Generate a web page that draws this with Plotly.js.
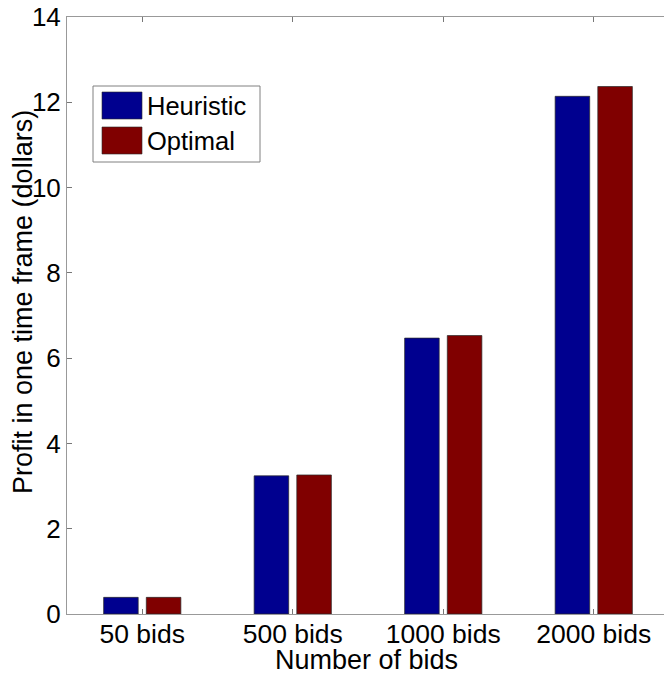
<!DOCTYPE html>
<html>
<head>
<meta charset="utf-8">
<script src="https://cdn.plot.ly/plotly-3.0.1.min.js"></script>
<style>
html,body{margin:0;padding:0;overflow:hidden;background:#fff;}
#chart{width:670px;height:676px;}
</style>
</head>
<body>
<div id="chart"></div>
<script>
var categories = ["50 bids", "500 bids", "1000 bids", "2000 bids"];
var seriesNames = ["Heuristic", "Optimal"];
var heuristic = [0.39, 3.24, 6.47, 12.14];
var optimal = [0.39, 3.26, 6.53, 12.37];
var yTicks = [0, 2, 4, 6, 8, 10, 12, 14];
var colors = ["#00008F", "#800000"];
var xTitle = "Number of bids";
var yTitle = "Profit in one time frame (dollars)";

var FONT = "Liberation Sans, Arial, Helvetica, sans-serif";

var traces = [heuristic, optimal].map(function (vals, i) {
  return {
    type: "bar",
    name: seriesNames[i],
    x: categories,
    y: vals,
    marker: { color: colors[i], line: { color: "rgba(40,40,40,0.7)", width: 1 } },
    hoverinfo: "x+y+name"
  };
});

var W = 670, H = 676, ml = 67, mr = 1, mt = 17, mb = 62;
var pw = W - ml - mr, ph = H - mt - mb;
function px(x) { return (x - ml) / pw; }
function py(y) { return 1 - (y - mt) / ph; }

var shapes = [
  { type: "rect", xref: "paper", yref: "paper", x0: px(93), x1: px(260), y0: py(162), y1: py(86),
    line: { color: "#808080", width: 1 }, fillcolor: "#ffffff", layer: "above" }
];
var annotations = [];
var patchTops = [92, 127];
for (var i = 0; i < seriesNames.length; i++) {
  shapes.push({ type: "rect", xref: "paper", yref: "paper",
    x0: px(102), x1: px(142), y0: py(patchTops[i] + 27), y1: py(patchTops[i]),
    line: { color: "rgba(40,40,40,0.6)", width: 1 }, fillcolor: colors[i], layer: "above" });
  annotations.push({ xref: "paper", yref: "paper", x: px(145), y: py(patchTops[i] + 14),
    xanchor: "left", yanchor: "middle", showarrow: false, text: seriesNames[i],
    font: { family: FONT, size: 25.5, color: "#000" } });
}
annotations.push({ xref: "paper", yref: "paper", x: px(366), y: py(660),
  xanchor: "center", yanchor: "middle", showarrow: false, text: xTitle,
  font: { family: FONT, size: 27, color: "#000" } });
annotations.push({ xref: "paper", yref: "paper", x: px(23), y: py(302),
  xanchor: "center", yanchor: "middle", showarrow: false, text: yTitle, textangle: -90,
  font: { family: FONT, size: 27, color: "#000" } });

var layout = {
  width: W, height: H,
  margin: { l: ml, r: mr, t: mt, b: mb, pad: 0 },
  paper_bgcolor: "#fff", plot_bgcolor: "#fff",
  showlegend: false,
  barmode: "group",
  bargap: 0.433,
  bargroupgap: 0.19,
  font: { family: FONT, size: 26, color: "#000" },
  xaxis: {
    type: "category",
    range: [-0.5, 3.5],
    showgrid: false, zeroline: false,
    showline: true, linecolor: "#999", linewidth: 1, mirror: "allticks",
    ticks: "inside", ticklen: 5, tickcolor: "#777",
    ticklabelstandoff: -4,
    tickfont: { family: FONT, size: 26.5, color: "#000" }
  },
  yaxis: {
    range: [0, 14],
    tickvals: yTicks,
    ticktext: yTicks.map(String),
    showgrid: false, zeroline: false,
    showline: true, linecolor: "#999", linewidth: 1, mirror: "allticks",
    ticks: "inside", ticklen: 5, tickcolor: "#777",
    tickfont: { family: FONT, size: 26, color: "#000" }
  },
  shapes: shapes,
  annotations: annotations
};

Plotly.newPlot("chart", traces, layout, { displayModeBar: false, staticPlot: true });
</script>
</body>
</html>
